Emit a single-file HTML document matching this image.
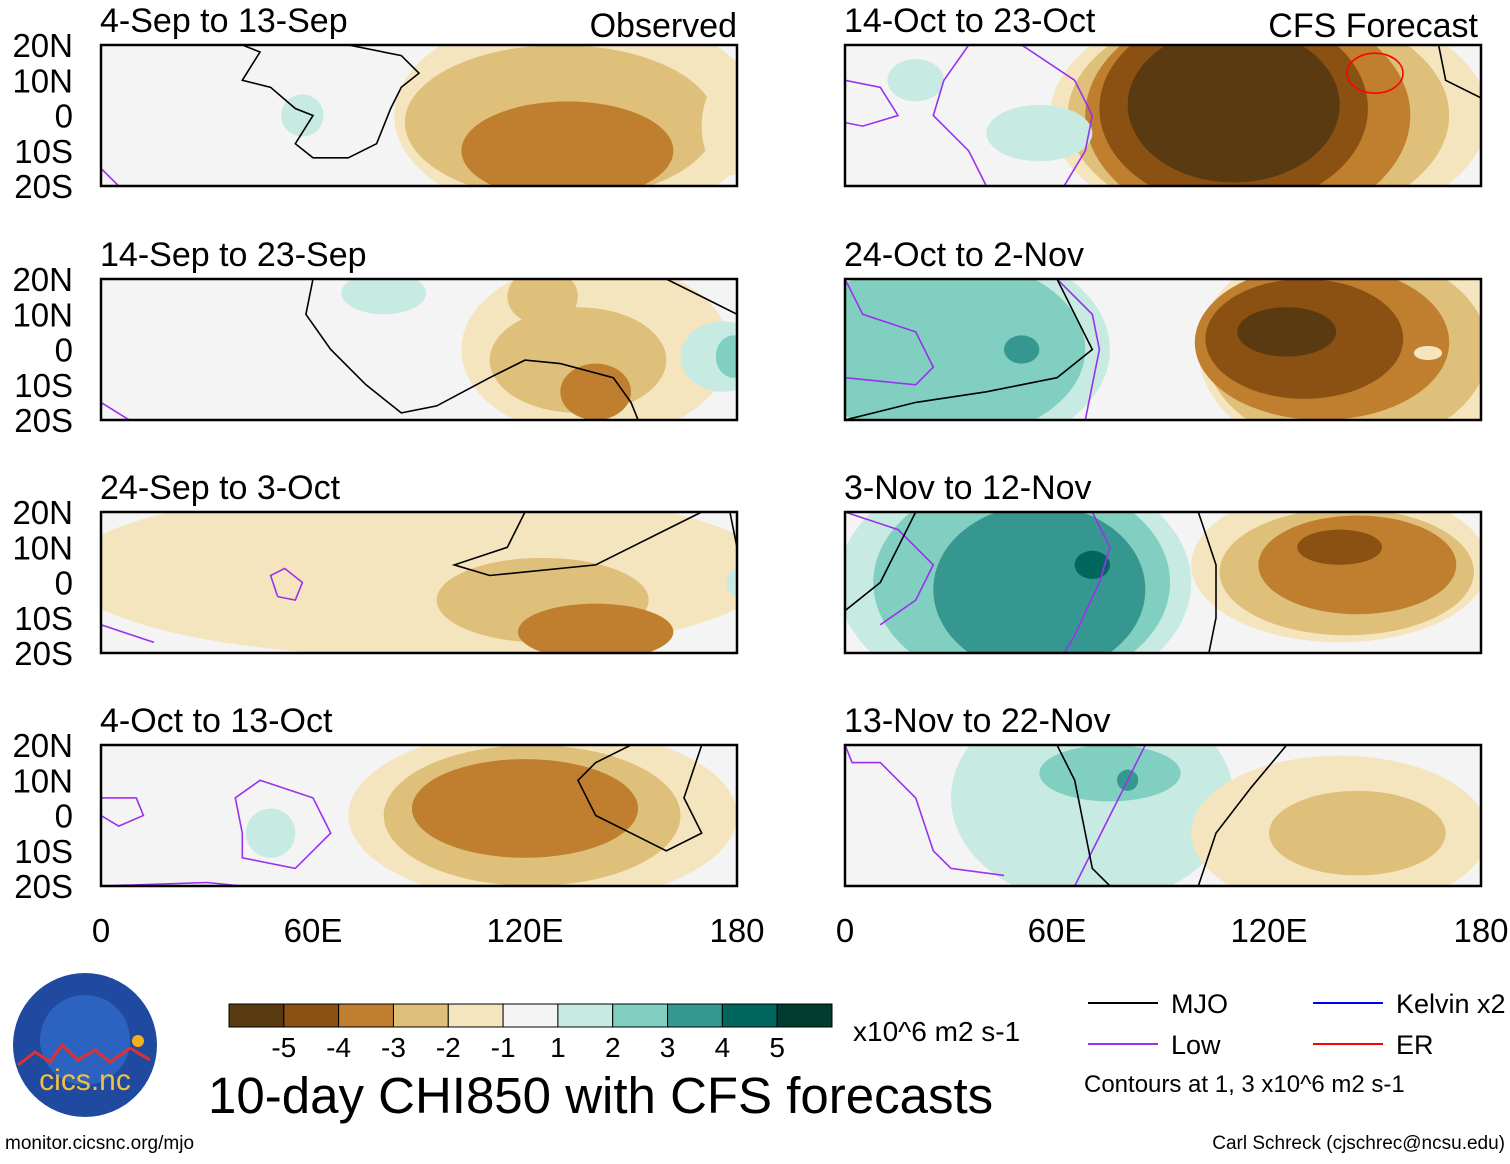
<!DOCTYPE html>
<html><head><meta charset="utf-8"><style>
body{margin:0;background:#fff;width:1510px;height:1159px;overflow:hidden;font-family:"Liberation Sans",sans-serif}
svg text{font-family:"Liberation Sans",sans-serif}
</style></head><body>
<svg id="fig" width="1510" height="1159" viewBox="0 0 1510 1159"></svg>
<script>
const levelColors = ["#5a3a10","#8b5113","#c07f2e","#dfc07a","#f5e5bf","#f4f4f4","#c7ebe2","#80cfc0","#35978f","#01665e","#003c30"];
const colorbarTicks = ["-5","-4","-3","-2","-1","1","2","3","4","5"];
const panelTitles = ["4-Sep to 13-Sep","14-Sep to 23-Sep","24-Sep to 3-Oct","4-Oct to 13-Oct","14-Oct to 23-Oct","24-Oct to 2-Nov","3-Nov to 12-Nov","13-Nov to 22-Nov"];
const latTicks = ["20N","10N","0","10S","20S"];
const lonTicks = ["0","60E","120E","180"];
// blobs: [lon, lat, rlon, rlat, level(-5..5)]
const blobsP1 = [[135,0,52,30,-1],[130,-2,44,22,-2],[132,-10,30,14,-3],[57,0,6,6,1],[178,-3,8,14,-1]];
const blobsP2 = [[140,0,38,25,-1],[135,-3,25,15,-2],[125,15,10,8,-2],[140,-12,10,8,-3],[80,16,12,6,1],[176,-2,12,10,1],[179,-2,5,6,2]];
const blobsP3 = [[90,3,100,24,-1],[125,-5,30,12,-2],[140,-14,22,8,-3],[180,-0,3,4,1]];
const blobsP4 = [[125,0,55,25,-1],[122,0,42,20,-2],[120,2,32,14,-3],[48,-5,7,7,1]];
const blobsR1 = [[120,0,62,34,-1],[117,0,54,32,-2],[114,0,46,32,-3],[110,2,38,28,-4],[110,3,30,22,-5],[55,-5,15,8,1],[20,10,8,6,1]];
const blobsR2 = [[30,0,45,30,1],[28,0,40,26,2],[50,0,5,4,3],[145,0,45,32,-1],[142,0,40,28,-2],[135,2,36,22,-3],[130,3,28,17,-4],[125,5,14,7,-5],[165,-1,4,2,-1]];
const blobsR3 = [[48,0,50,34,1],[50,0,42,30,2],[55,-2,30,24,3],[70,5,5,4,4],[140,5,42,22,-1],[142,3,36,18,-2],[145,5,28,14,-3],[140,10,12,5,-4]];
const blobsR4 = [[70,5,40,30,1],[75,12,20,8,2],[80,10,3,3,3],[140,-5,42,22,-1],[145,-5,25,12,-2]];
const allBlobs = [blobsP1,blobsP2,blobsP3,blobsP4,blobsR1,blobsR2,blobsR3,blobsR4];
const mjoLines = [
 [[[70,20],[85,17],[90,12],[85,8],[82,2],[78,-8],[70,-12],[60,-12],[55,-8],[60,0],[55,2],[48,8],[40,10],[45,18],[40,20]]],
 [[[60,20],[58,10],[65,0],[75,-10],[85,-18],[95,-16],[110,-8],[120,-3],[130,-4],[145,-8],[150,-15],[152,-20]],[[160,20],[170,15],[180,10]]],
 [[[120,20],[115,10],[100,5],[110,2],[140,5],[160,15],[170,20]],[[178,20],[180,10]]],
 [[[150,20],[140,15],[135,10],[140,0],[160,-10],[170,-5],[165,5],[170,20]]],
 [[[168,20],[170,10],[180,5]]],
 [[[60,20],[65,10],[70,0],[60,-8],[40,-12],[20,-15],[0,-20]]],
 [[[20,20],[15,10],[10,0],[0,-8]],[[100,20],[105,5],[105,-10],[103,-20]]],
 [[[60,20],[65,10],[68,-5],[70,-15],[75,-20]],[[125,20],[115,8],[105,-5],[100,-20]]]
];
const lowLines = [
 [[[0,-15],[5,-20]]],
 [[[0,-15],[8,-20]]],
 [[[0,-12],[15,-17]],[[50,-4],[48,2],[52,4],[57,0],[55,-5],[50,-4]]],
 [[[0,5],[10,5],[12,0],[5,-3],[0,0]],[[40,-5],[38,5],[45,10],[60,5],[65,-5],[55,-15],[40,-12],[40,-5]],[[0,-20],[30,-19],[40,-20]]],
 [[[0,10],[10,8],[15,0],[5,-3],[0,-2]],[[35,20],[28,10],[25,0],[35,-10],[40,-20]],[[50,20],[65,10],[70,0],[68,-10],[62,-20]]],
 [[[0,20],[5,10],[20,5],[25,-5],[20,-10],[0,-8]],[[60,20],[70,10],[72,0],[70,-10],[68,-20]]],
 [[[0,20],[15,15],[25,5],[20,-5],[10,-12]],[[70,20],[75,10],[72,0],[65,-15],[62,-20]]],
 [[[0,20],[2,15],[10,15],[20,5],[25,-10],[30,-15],[45,-17]],[[85,20],[80,10],[75,0],[70,-10],[65,-20]]]
];
const W=636,H=141;
const panelX=[101,101,101,101,845,845,845,845];
const panelY=[45,279,512,745,45,279,512,745];
const NS="http://www.w3.org/2000/svg";
const svg=document.getElementById('fig');
function el(t,a,p){const e=document.createElementNS(NS,t);for(const k in a)e.setAttribute(k,a[k]);(p||svg).appendChild(e);return e;}
function lvlColor(l){return levelColors[l+5];}
const defs=el('defs',{});
for(let i=0;i<8;i++){
 const x0=panelX[i],y0=panelY[i];
 const xs=lon=>x0+lon/180*W, ys=lat=>y0+(20-lat)/40*H;
 const cp=el('clipPath',{id:'c'+i},defs);el('rect',{x:x0,y:y0,width:W,height:H},cp);
 const g=el('g',{'clip-path':'url(#c'+i+')'});
 
 
 el('rect',{x:x0,y:y0,width:W,height:H,fill:'#f4f4f4'},g);
 for(const b of allBlobs[i]){
  const e=el('ellipse',{cx:xs(b[0]),cy:ys(b[1]),rx:b[2]/180*W,ry:b[3]/40*H,fill:lvlColor(b[4])},g);
  
  
 }
 const drawLines=(lines,col)=>{for(const ln of lines){const d=ln.map((p,k)=>(k?'L':'M')+xs(p[0]).toFixed(1)+','+ys(p[1]).toFixed(1)).join('');
  const pth=el('path',{d:d,fill:'none',stroke:col,'stroke-width':1.6},g);
  
  }};
 drawLines(lowLines[i],'#9b30f0');
 drawLines(mjoLines[i],'#000');
 if(i==4){const r=el('ellipse',{cx:xs(150),cy:ys(12),rx:28,ry:20,fill:'none',stroke:'#f00','stroke-width':1.6},g);}
 const fr=el('rect',{x:x0,y:y0,width:W,height:H,fill:'none',stroke:'#000','stroke-width':2.5});
 
 
 const t=el('text',{x:x0-1,y:y0-13,'font-size':34,fill:'#000'});t.textContent=panelTitles[i];
 
 
 if(i<4){latTicks.forEach((s,k)=>{const tt=el('text',{x:73,y:y0+k*H/4+12,'font-size':33,'text-anchor':'end'});tt.textContent=s;
  
  });}
}
[["Observed",737],["CFS Forecast",1478]].forEach(a=>{const t=el('text',{x:a[1],y:37,'font-size':34,'text-anchor':'end'});t.textContent=a[0];
 
 });
[101,845].forEach(x0=>lonTicks.forEach((s,k)=>{const t=el('text',{x:x0+k*W/3,y:942,'font-size':33,'text-anchor':'middle'});t.textContent=s;
 
 }));
const cbX=229,cbW=603,cbY=1004,cbH=23,bw=cbW/11;
levelColors.forEach((c,k)=>{const r=el('rect',{x:cbX+k*bw,y:cbY,width:bw,height:cbH,fill:c,stroke:'#000','stroke-width':1});
 
 });
colorbarTicks.forEach((s,k)=>{const t=el('text',{x:cbX+(k+1)*bw,y:1057,'font-size':28,'text-anchor':'middle'});t.textContent=s;
 
 });
function txt(x,y,s,fs,name,anchor){const t=el('text',{x:x,y:y,'font-size':fs,'text-anchor':anchor||'start'});t.textContent=s;
 
 return t;}
txt(853,1041,"x10^6 m2 s-1",28,'colorbar-units');
txt(208,1113,"10-day CHI850 with CFS forecasts",51,'figure-title');
txt(5,1149,"monitor.cicsnc.org/mjo",19,'source-url');
txt(1505,1149,"Carl Schreck (cjschrec@ncsu.edu)",19,'author-credit','end');
txt(1084,1092,"Contours at 1, 3 x10^6 m2 s-1",24,'contour-note');
[[1088,1003,'#000','MJO'],[1088,1044,'#9b30f0','Low'],[1313,1003,'#00f','Kelvin x2'],[1313,1044,'#f00','ER']].forEach(a=>{
 const l=el('line',{x1:a[0],y1:a[1],x2:a[0]+70,y2:a[1],stroke:a[2],'stroke-width':2});
 
 
 txt(a[0]+83,a[1]+10,a[3],27,'legend-label');});
const lg=el('g',{});
el('circle',{cx:85,cy:1045,r:72,fill:'#1f4aa0'},lg);
el('circle',{cx:85,cy:1040,r:45,fill:'#2d63c0'},lg);
el('path',{d:'M18,1065 L35,1052 L50,1062 L62,1045 L78,1060 L95,1050 L110,1062 L130,1048 L150,1060',fill:'none',stroke:'#e03030','stroke-width':3},lg);
el('circle',{cx:138,cy:1041,r:6,fill:'#f5b020'},lg);
const lt=el('text',{x:85,y:1090,'font-size':30,fill:'#f2c040','text-anchor':'middle'},lg);lt.textContent='cics.nc';
</script>
</body></html>
